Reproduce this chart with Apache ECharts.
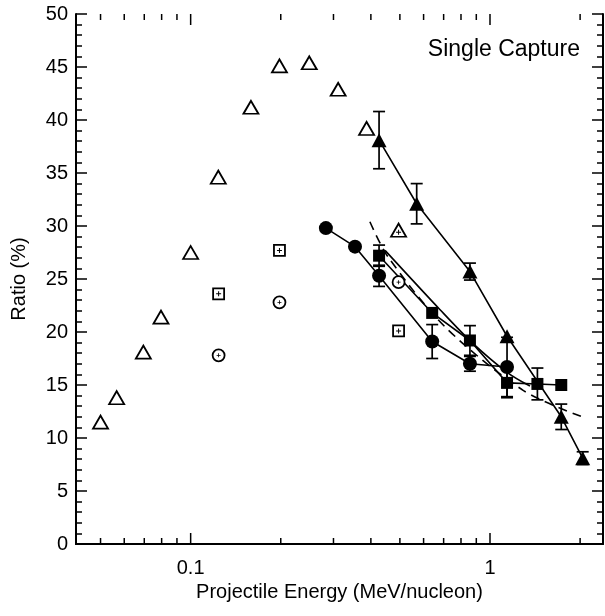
<!DOCTYPE html>
<html>
<head>
<meta charset="utf-8">
<script src="https://cdn.jsdelivr.net/npm/echarts@6/dist/echarts.min.js"></script>
<style>
html, body { margin: 0; padding: 0; background: #fff; }
#chart { width: 605px; height: 616px; }
</style>
</head>
<body>
<div id="chart"></div>
<script>
// data (x: MeV/nucleon, y: %)
var openTri = [[0.05, 11.5], [0.0566, 13.8], [0.0695, 18.1], [0.0796, 21.4], [0.1, 27.5], [0.1237, 34.6],
    [0.159, 41.2], [0.198, 45.1], [0.249, 45.4], [0.311, 42.9], [0.387, 39.2]];
var openTriPlus = [[0.495, 29.6]];
var circleDot = [[0.124, 17.8], [0.198, 22.8], [0.495, 24.7]];
var squarePlus = [[0.124, 23.6], [0.198, 27.7], [0.495, 20.1]];
var fillTri = [[0.426, 38.1], [0.569, 32.1], [0.857, 25.7], [1.14, 19.6], [1.73, 12.0], [2.04, 8.1]];
var fillTriErr = [2.7, 1.9, 0.8, 0, 1.2, 0.6];
var fillCircle = [[0.283, 29.8], [0.354, 28.05], [0.426, 25.3], [0.641, 19.1], [0.857, 17.0], [1.14, 16.7]];
var fillCircleErr = [0, 0, 1.0, 1.6, 0.7, 2.8];
var fillSquare = [[0.426, 27.2], [0.641, 21.8], [0.857, 19.2], [1.14, 15.2], [1.44, 15.1], [1.73, 15.0]];
var fillSquareErr = [1.0, 0, 1.4, 1.4, 1.5, 0];
var dashedFit = [[0.397, 30.4], [0.456, 27.1], [0.707, 20.5], [1.29, 14.5], [2.03, 12.0]];
var solidFit = [[0.446, 27.7], [0.681, 22.1], [0.871, 19.0], [1.14, 16.2], [1.36, 14.9]];
var xMajorTicks = [0.1, 1];
var xMinorTicks = [0.05, 0.06, 0.07, 0.08, 0.09, 0.2, 0.3, 0.4, 0.5, 0.6, 0.7, 0.8, 0.9, 2];

var FONT = '"Liberation Sans", Arial, Helvetica, sans-serif';
var plusPath = 'path://M2,0H3V2H5V3H3V5H2V3H0V2H2Z';

function withErr(pts, errs) {
    var out = [];
    pts.forEach(function (p, i) {
        if (errs[i] > 0) out.push([p[0], p[1], errs[i]]);
    });
    return out;
}

// vertical error bar with caps
function errItem(params, api) {
    var x = api.value(0), y = api.value(1), e = api.value(2);
    var lo = api.coord([x, y - e]);
    var hi = api.coord([x, y + e]);
    var w = 6;
    var st = { stroke: '#000', lineWidth: 1.7 };
    return {
        type: 'group',
        children: [
            { type: 'line', shape: { x1: lo[0], y1: lo[1], x2: hi[0], y2: hi[1] }, style: st },
            { type: 'line', shape: { x1: lo[0] - w, y1: lo[1], x2: lo[0] + w, y2: lo[1] }, style: st },
            { type: 'line', shape: { x1: hi[0] - w, y1: hi[1], x2: hi[0] + w, y2: hi[1] }, style: st }
        ]
    };
}

// x ticks on bottom and top frame (log axis)
function tickItem(len) {
    return function (params, api) {
        var b = api.coord([api.value(0), 0]);
        var t = api.coord([api.value(0), 50]);
        var st = { stroke: '#000', lineWidth: 1.5 };
        return {
            type: 'group',
            children: [
                { type: 'line', shape: { x1: b[0], y1: b[1], x2: b[0], y2: b[1] - len }, style: st },
                { type: 'line', shape: { x1: t[0], y1: t[1], x2: t[0], y2: t[1] + len }, style: st }
            ]
        };
    };
}

function errSeries(data) {
    return { type: 'custom', renderItem: errItem, data: data, z: 1, silent: true };
}

var chart = echarts.init(document.getElementById('chart'));
var yAxisBase = {
    type: 'value',
    min: 0,
    max: 50,
    interval: 5,
    splitLine: { show: false },
    axisLine: { show: true, lineStyle: { color: '#000', width: 2 } },
    axisTick: { show: true, inside: true, length: 11, lineStyle: { color: '#000', width: 1.5 } },
    minorTick: { show: true, splitNumber: 5, length: 6, lineStyle: { color: '#000', width: 1.5 } }
};

var option = {
    animation: false,
    backgroundColor: '#fff',
    grid: { left: 76, right: 2, top: 14, bottom: 72 },
    xAxis: [{
        type: 'log',
        min: 0.0414,
        max: 2.385,
        position: 'bottom',
        name: 'Projectile Energy (MeV/nucleon)',
        nameLocation: 'middle',
        nameGap: 36,
        nameTextStyle: { color: '#000', fontSize: 20, fontFamily: FONT },
        splitLine: { show: false },
        axisLine: { show: true, lineStyle: { color: '#000', width: 2 } },
        axisTick: { show: false },
        axisLabel: {
            color: '#000',
            fontSize: 20,
            fontFamily: FONT,
            margin: 14,
            showMinLabel: false,
            showMaxLabel: false,
            formatter: function (v) {
                if (Math.abs(v - 0.1) < 1e-6) return '0.1';
                if (Math.abs(v - 1) < 1e-6) return '1';
                return '';
            }
        }
    }, {
        type: 'log',
        min: 0.0414,
        max: 2.385,
        position: 'top',
        splitLine: { show: false },
        axisLine: { show: true, lineStyle: { color: '#000', width: 2 } },
        axisTick: { show: false },
        axisLabel: { show: false }
    }],
    yAxis: [Object.assign({}, yAxisBase, {
        position: 'left',
        name: 'Ratio (%)',
        nameLocation: 'middle',
        nameGap: 47,
        nameTextStyle: { color: '#000', fontSize: 20, fontFamily: FONT },
        axisLabel: { color: '#000', fontSize: 20, fontFamily: FONT, margin: 8 }
    }), Object.assign({}, yAxisBase, {
        position: 'right',
        axisLabel: { show: false }
    })],
    graphic: [{
        type: 'text',
        right: 25,
        top: 38,
        style: { text: 'Single Capture', fill: '#000', fontSize: 23, fontFamily: FONT }
    }],
    series: [
        { type: 'custom', renderItem: tickItem(11), data: xMajorTicks.map(function (v) { return [v, 0]; }), silent: true, z: 1 },
        { type: 'custom', renderItem: tickItem(6), data: xMinorTicks.map(function (v) { return [v, 0]; }), silent: true, z: 1 },
        errSeries(withErr(fillTri, fillTriErr)),
        errSeries(withErr(fillCircle, fillCircleErr)),
        errSeries(withErr(fillSquare, fillSquareErr)),
        {
            type: 'line', data: dashedFit, showSymbol: false, smooth: 0.3, z: 2,
            lineStyle: { color: '#000', width: 1.6, type: [9, 6] }
        },
        {
            type: 'line', data: solidFit, showSymbol: false, smooth: 0.3, z: 2,
            lineStyle: { color: '#000', width: 1.6 }
        },
        {
            type: 'line', data: fillTri, symbol: 'triangle', symbolSize: [15, 14], z: 3,
            itemStyle: { color: '#000' }, lineStyle: { color: '#000', width: 1.6 }
        },
        {
            type: 'line', data: fillCircle, symbol: 'circle', symbolSize: 14, z: 3,
            itemStyle: { color: '#000' }, lineStyle: { color: '#000', width: 1.6 }
        },
        {
            type: 'line', data: fillSquare, symbol: 'rect', symbolSize: 12, z: 3,
            itemStyle: { color: '#000' }, lineStyle: { color: '#000', width: 1.6 }
        },
        {
            type: 'scatter', data: openTri, symbol: 'triangle', symbolSize: [15, 13], z: 4,
            itemStyle: { color: '#fff', borderColor: '#000', borderWidth: 1.8, opacity: 1 }
        },
        {
            type: 'scatter', data: openTriPlus, symbol: 'triangle', symbolSize: [15, 13], z: 4,
            itemStyle: { color: '#fff', borderColor: '#000', borderWidth: 1.8, opacity: 1 }
        },
        {
            type: 'scatter', data: openTriPlus, symbol: plusPath, symbolSize: 5, symbolOffset: [0, 2], z: 5,
            itemStyle: { color: '#000', opacity: 1 }
        },
        {
            type: 'scatter', data: circleDot, symbol: 'circle', symbolSize: 12, z: 4,
            itemStyle: { color: '#fff', borderColor: '#000', borderWidth: 1.8, opacity: 1 }
        },
        {
            type: 'scatter', data: circleDot, symbol: plusPath, symbolSize: 4, z: 5,
            itemStyle: { color: '#000', opacity: 1 }
        },
        {
            type: 'scatter', data: squarePlus, symbol: 'rect', symbolSize: 11, z: 4,
            itemStyle: { color: '#fff', borderColor: '#000', borderWidth: 1.8, opacity: 1 }
        },
        {
            type: 'scatter', data: squarePlus, symbol: plusPath, symbolSize: 5, z: 5,
            itemStyle: { color: '#000', opacity: 1 }
        }
    ]
};
chart.setOption(option);
</script>
</body>
</html>
